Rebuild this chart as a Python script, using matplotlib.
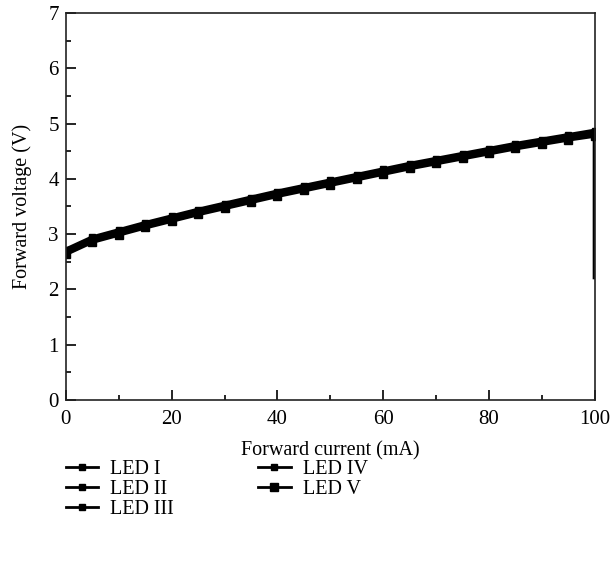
import numpy as np
import matplotlib
matplotlib.use('Agg')
from matplotlib import pyplot as plt
from matplotlib.ticker import MultipleLocator

current = [0, 5, 10, 15, 20, 25, 30, 35, 40, 45, 50, 55, 60, 65, 70, 75, 80, 85, 90, 95, 100]
led_1 = [2.72, 2.94, 3.07, 3.20, 3.32, 3.44, 3.55, 3.66, 3.77, 3.87, 3.97, 4.07, 4.17, 4.27, 4.36, 4.45, 4.54, 4.63, 4.71, 4.79, 4.87]
led_2 = [2.70, 2.92, 3.05, 3.18, 3.30, 3.42, 3.53, 3.64, 3.75, 3.85, 3.95, 4.05, 4.15, 4.25, 4.34, 4.43, 4.52, 4.61, 4.69, 4.77, 4.84]
led_3 = [2.68, 2.90, 3.03, 3.16, 3.28, 3.40, 3.51, 3.62, 3.73, 3.83, 3.93, 4.03, 4.13, 4.23, 4.32, 4.41, 4.50, 4.59, 4.67, 4.75, 4.82]
led_4 = [2.66, 2.88, 3.01, 3.14, 3.26, 3.38, 3.49, 3.60, 3.71, 3.81, 3.91, 4.01, 4.11, 4.21, 4.30, 4.39, 4.48, 4.57, 4.65, 4.73, 4.80]
led_5 = [2.64, 2.86, 2.99, 3.12, 3.24, 3.36, 3.47, 3.58, 3.69, 3.79, 3.89, 3.99, 4.09, 4.19, 4.28, 4.37, 4.46, 4.55, 4.63, 4.71, 4.78, 2.22]
current_5 = current + [100]
labels = ['LED I', 'LED II', 'LED III', 'LED IV', 'LED V']

plt.rcParams['font.family'] = ['Liberation Serif', 'DejaVu Serif']

fig = plt.figure(figsize=(6.1, 5.61), dpi=100)
ax = fig.add_axes([0.108, 0.287, 0.867, 0.690])

series = [(current, led_1), (current, led_2), (current, led_3), (current, led_4), (current_5, led_5)]
for i, (x, y) in enumerate(series):
    ms = 6 if i == 4 else 4
    ax.plot(x, y, color='black', lw=3, marker='s', ms=ms, label=labels[i],
            markevery=list(range(len(current))))

ax.set_xlim(0, 100)
ax.set_ylim(0, 7)
ax.xaxis.set_major_locator(MultipleLocator(20))
ax.xaxis.set_minor_locator(MultipleLocator(10))
ax.yaxis.set_major_locator(MultipleLocator(1))
ax.yaxis.set_minor_locator(MultipleLocator(0.5))
ax.tick_params(which='major', direction='in', length=7, width=1.2, labelsize=15, pad=5)
ax.tick_params(axis='x', which='major', pad=7)
ax.tick_params(which='minor', direction='in', length=3.5, width=1.2)
ax.tick_params(top=False, right=False, which='both')
for s in ax.spines.values():
    s.set_color('#222222')
    s.set_linewidth(1.2)

ax.set_xlabel('Forward current (mA)', fontsize=14.5, labelpad=9)
ax.set_ylabel('Forward voltage (V)', fontsize=14.5, labelpad=12)

leg = ax.legend(loc='upper left', bbox_to_anchor=(0.078, 0.212), bbox_transform=fig.transFigure,
                ncol=2, frameon=False, fontsize=14.5, handlelength=1.6, handletextpad=0.6,
                columnspacing=4.2, labelspacing=0.05)
for h in leg.legend_handles:
    h.set_linewidth(2)

fig.savefig('out.png', dpi=100)
